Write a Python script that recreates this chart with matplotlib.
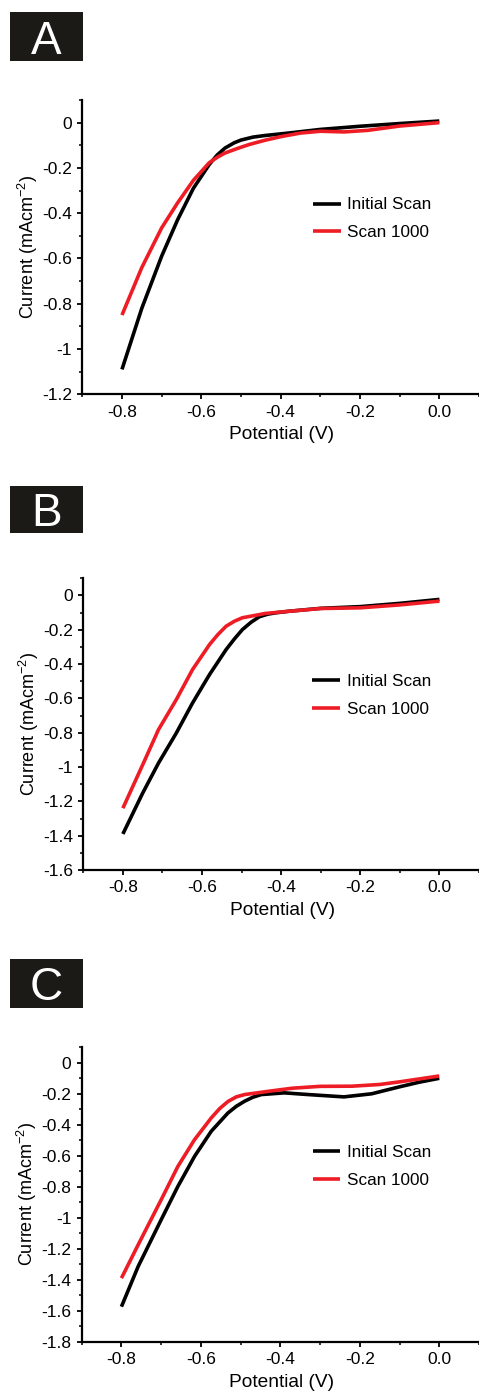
import matplotlib
matplotlib.use("Agg")
import matplotlib.pyplot as plt
from matplotlib.patches import Rectangle
from matplotlib.ticker import MultipleLocator, FuncFormatter

plt.rcParams['font.family'] = ['Liberation Sans', 'DejaVu Sans']
plt.rcParams['mathtext.fontset'] = 'custom'
plt.rcParams['mathtext.rm'] = 'Liberation Sans'
plt.rcParams['mathtext.it'] = 'Liberation Sans'
plt.rcParams['axes.unicode_minus'] = False

# ---------------- data ----------------
panel_labels = ["A", "B", "C"]
legend_labels = ["Initial Scan", "Scan 1000"]
x_ticks = [-0.8, -0.6, -0.4, -0.2, 0.0]

# Panel A
a_init_x = [-0.80, -0.75, -0.70, -0.66, -0.62, -0.58, -0.56, -0.54, -0.517, -0.50, -0.47, -0.44, -0.38, -0.30, -0.20, -0.10, 0.00]
a_init_y = [-1.09, -0.82, -0.59, -0.43, -0.29, -0.185, -0.143, -0.112, -0.089, -0.077, -0.064, -0.057, -0.046, -0.03, -0.016, -0.004, 0.007]
a_1000_x = [-0.80, -0.75, -0.70, -0.66, -0.62, -0.58, -0.559, -0.54, -0.509, -0.48, -0.44, -0.40, -0.35, -0.30, -0.24, -0.18, -0.10, 0.00]
a_1000_y = [-0.85, -0.64, -0.465, -0.355, -0.255, -0.177, -0.152, -0.134, -0.114, -0.097, -0.078, -0.062, -0.046, -0.038, -0.041, -0.034, -0.015, 0.0]

# Panel B
b_init_x = [-0.80, -0.75, -0.71, -0.665, -0.624, -0.581, -0.539, -0.518, -0.498, -0.476, -0.455, -0.434, -0.413, -0.38, -0.30, -0.20, -0.10, 0.00]
b_init_y = [-1.39, -1.152, -0.977, -0.802, -0.627, -0.461, -0.315, -0.253, -0.199, -0.156, -0.124, -0.109, -0.101, -0.092, -0.075, -0.065, -0.046, -0.023]
b_1000_x = [-0.80, -0.75, -0.71, -0.665, -0.624, -0.581, -0.560, -0.539, -0.518, -0.498, -0.44, -0.38, -0.30, -0.20, -0.10, 0.00]
b_1000_y = [-1.24, -0.987, -0.782, -0.607, -0.432, -0.286, -0.228, -0.179, -0.150, -0.130, -0.105, -0.092, -0.076, -0.072, -0.055, -0.033]

# Panel C
c_init_x = [-0.80, -0.758, -0.70, -0.658, -0.616, -0.574, -0.532, -0.511, -0.49, -0.469, -0.448, -0.39, -0.33, -0.24, -0.17, -0.10, -0.05, 0.00]
c_init_y = [-1.574, -1.315, -1.013, -0.798, -0.604, -0.442, -0.324, -0.281, -0.248, -0.222, -0.205, -0.194, -0.205, -0.22, -0.20, -0.155, -0.125, -0.10]
c_1000_x = [-0.80, -0.758, -0.70, -0.658, -0.616, -0.574, -0.553, -0.532, -0.511, -0.49, -0.43, -0.37, -0.30, -0.22, -0.15, -0.10, 0.00]
c_1000_y = [-1.39, -1.175, -0.884, -0.669, -0.496, -0.356, -0.296, -0.250, -0.220, -0.205, -0.184, -0.164, -0.152, -0.151, -0.14, -0.123, -0.085]

y_bottoms = [-1.2, -1.6, -1.8]

# ---------------- layout ----------------
W, H = 479, 1391
fig = plt.figure(figsize=(W / 100, H / 100), dpi=100)

axes_px = [  # left, top, bottom (pixels)
    (82.3, 100.0, 394.3),
    (83.3, 578.3, 870.0),
    (81.7, 1047.3, 1341.7),
]
box_px = [  # top, bottom
    (12, 61),
    (486, 533),
    (959, 1008),
]
legend_anchor = [(0.582, 0.596), (0.579, 0.597), (0.581, 0.595)]

series = [
    ((a_init_x, a_init_y), (a_1000_x, a_1000_y)),
    ((b_init_x, b_init_y), (b_1000_x, b_1000_y)),
    ((c_init_x, c_init_y), (c_1000_x, c_1000_y)),
]

black = '#000000'
red = '#ee1c25'


def yfmt(v, pos):
    s = ('%.1f' % v)
    if s.endswith('.0'):
        s = s[:-2]
    if s == '-0':
        s = '0'
    return s


for i in range(3):
    left, top, bot = axes_px[i]
    ax = fig.add_axes([left / W, 1 - bot / H, (W - left) / W, (bot - top) / H])
    (ix, iy), (rx, ry) = series[i]
    ax.plot(ix, iy, color=black, lw=2.6, label=legend_labels[0], solid_capstyle='butt',
            solid_joinstyle='round')
    ax.plot(rx, ry, color=red, lw=2.6, label=legend_labels[1], solid_capstyle='butt',
            solid_joinstyle='round')

    ax.set_xlim(-0.9, 0.1)
    ax.set_ylim(y_bottoms[i], 0.1)
    ax.set_xticks(x_ticks)
    ax.xaxis.set_major_formatter(FuncFormatter(lambda v, p: '%.1f' % (0.0 if abs(v) < 1e-9 else v)))
    ax.xaxis.set_minor_locator(MultipleLocator(0.1))
    ax.yaxis.set_major_locator(MultipleLocator(0.2))
    ax.yaxis.set_minor_locator(MultipleLocator(0.1))
    ax.yaxis.set_major_formatter(FuncFormatter(yfmt))

    for s in ['top', 'right']:
        ax.spines[s].set_visible(False)
    for s in ['left', 'bottom']:
        ax.spines[s].set_linewidth(1.6)
    ax.tick_params(which='major', direction='out', length=3.5, width=1.3, labelsize=12.5, pad=4.0)
    ax.tick_params(which='minor', direction='out', length=2.2, width=1.1)

    ax.set_xlabel('Potential (V)', fontsize=13.8)
    ax.set_ylabel('Current (mAcm$^{-2}$)', fontsize=13)
    ax.xaxis.set_label_coords(0.503, -0.138)
    ax.yaxis.set_label_coords(-0.137, 0.5)
    ax.yaxis.label.set_va('center')
    ax.xaxis.label.set_va('center')

    ax.legend(loc='center left', bbox_to_anchor=legend_anchor[i], frameon=False,
              fontsize=12.3, handlelength=1.6, handletextpad=0.4, labelspacing=0.75,
              borderpad=0, borderaxespad=0)

    bt, bb = box_px[i]
    fig.add_artist(Rectangle((10 / W, 1 - bb / H), 73 / W, (bb - bt) / H,
                             transform=fig.transFigure, facecolor='#1c1a17',
                             edgecolor='none'))
    fig.text((10 + 36.5) / W, 1 - ((bt + bb) / 2) / H, panel_labels[i],
             color='white', fontsize=33, ha='center', va='center_baseline')

fig.savefig('out.png', dpi=100)
